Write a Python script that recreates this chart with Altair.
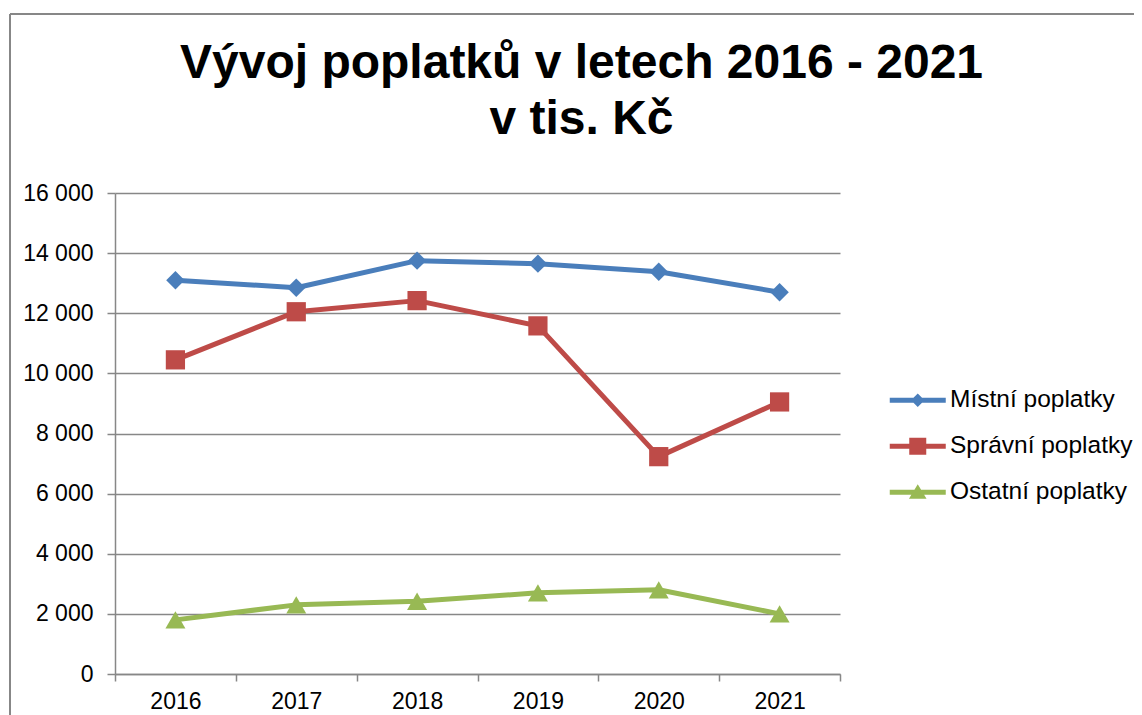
import altair as alt
import pandas as pd

years = ["2016", "2017", "2018", "2019", "2020", "2021"]
series_names = ["Místní poplatky", "Správní poplatky", "Ostatní poplatky"]
mistni = [13100, 12850, 13750, 13650, 13380, 12700]
spravni = [10450, 12050, 12420, 11580, 7230, 9050]
ostatni = [1800, 2300, 2420, 2700, 2800, 2000]
colors = ["#4A7EBB", "#BE4B48", "#98B954"]
y_ticks = [0, 2000, 4000, 6000, 8000, 10000, 12000, 14000, 16000]
title_lines = ["Vývoj poplatků v letech 2016 - 2021", "v tis. Kč"]

rows = []
for name, vals in zip(series_names, [mistni, spravni, ostatni]):
    for yr, v in zip(years, vals):
        rows.append({"rok": yr, "serie": name, "hodnota": v})
df = pd.DataFrame(rows)

FONT = "Liberation Sans"
GRAY = "#878787"

# legend symbols: line segment + marker (unit coords, scaled by sqrt(size)/2)
line_part = "M-2.8,-0.25L2.8,-0.25L2.8,0.25L-2.8,0.25Z"
leg_paths = [
    line_part + "M0,-0.68L0.68,0L0,0.68L-0.68,0Z",
    line_part + "M-0.85,-0.85L0.85,-0.85L0.85,0.85L-0.85,0.85Z",
    line_part + "M0,-0.8L0.88,0.65L-0.88,0.65Z",
]

x_enc = alt.X(
    "rok:O",
    scale=alt.Scale(type="band", paddingInner=0, paddingOuter=0, domain=years),
    axis=alt.Axis(
        title=None, labelAngle=0, tickBand="extent", grid=False,
        domainColor=GRAY, domainWidth=1.5, tickColor=GRAY, tickWidth=1.5,
        tickSize=7, labelPadding=9, labelFont=FONT, labelFontSize=23,
        labelColor="#000000",
    ),
)
y_enc = alt.Y(
    "hodnota:Q",
    scale=alt.Scale(domain=[0, 16000], nice=False),
    axis=alt.Axis(
        title=None, values=y_ticks, grid=True, gridColor=GRAY, gridWidth=1.5,
        domainColor=GRAY, domainWidth=1.5, tickColor=GRAY, tickWidth=1.5,
        tickSize=8, labelPadding=14, labelFont=FONT, labelFontSize=23,
        labelColor="#000000",
        labelExpr="replace(format(datum.value, ','), ',', ' ')",
    ),
)
color_scale = alt.Scale(domain=series_names, range=colors)

base = alt.Chart(df)

lines = base.mark_line(strokeWidth=5, strokeJoin="round", strokeCap="round").encode(
    x=x_enc, y=y_enc,
    color=alt.Color("serie:N", scale=color_scale, legend=None),
    detail="serie:N",
)

points = base.mark_point(filled=True, opacity=1).encode(
    x=x_enc, y=y_enc,
    color=alt.Color("serie:N", scale=color_scale, legend=None),
    shape=alt.Shape("serie:N", scale=alt.Scale(domain=series_names,
                    range=["diamond", "square", "triangle-up"]), legend=None),
    size=alt.Size("serie:N", scale=alt.Scale(domain=series_names,
                  range=[340, 400, 430]), legend=None),
)

legend_layer = base.mark_point(filled=True, opacity=0).encode(
    x=x_enc, y=y_enc,
    color=alt.Color("serie:N", scale=color_scale,
                    legend=alt.Legend(title=None, symbolOpacity=1)),
    shape=alt.Shape("serie:N", scale=alt.Scale(domain=series_names, range=leg_paths),
                    legend=alt.Legend(title=None, symbolOpacity=1)),
)

frame_left = alt.Chart(pd.DataFrame({"k": [0]})).mark_rule(color=GRAY, strokeWidth=2).encode(
    x=alt.value(-105), y=alt.value(-179), y2=alt.value(700)
)
frame_top = alt.Chart(pd.DataFrame({"k": [0]})).mark_rule(color=GRAY, strokeWidth=2).encode(
    x=alt.value(-105), x2=alt.value(1100), y=alt.value(-179)
)

chart = alt.layer(lines, points, legend_layer, frame_left, frame_top).resolve_scale(
    color="independent", shape="independent"
).properties(
    width=725,
    height=481,
    padding={"left": 107, "top": 185, "right": 294, "bottom": 41},
    autosize=alt.AutoSizeParams(type="none"),
    title=alt.TitleParams(
        text=title_lines, anchor="middle", frame="group", dx=104, dy=131, offset=0,
        font=FONT, fontSize=48, fontWeight="bold", lineHeight=56, color="#000000",
    ),
).configure_view(stroke=None).configure_legend(
    orient="none", legendX=774, legendY=195, padding=0,
    symbolSize=400, symbolStrokeWidth=0, symbolOffset=16.5, labelOffset=20,
    rowPadding=21, labelFont=FONT, labelFontSize=24.5, labelColor="#000000",
    labelLimit=0,
)

chart.save("out.html", embed_options={"renderer": "svg", "actions": False})
